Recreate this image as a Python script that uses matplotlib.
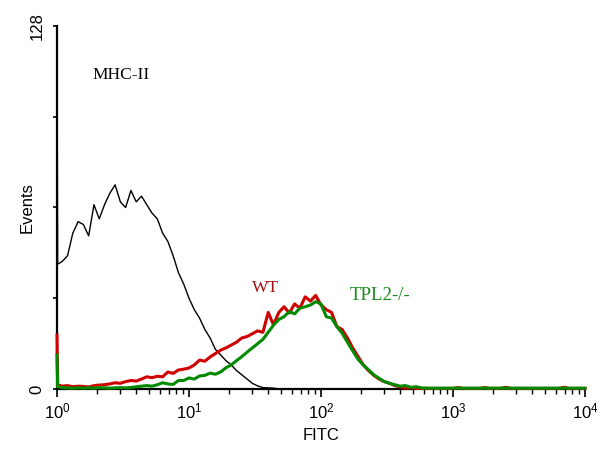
import numpy as np
import matplotlib
matplotlib.use("Agg")
import matplotlib.pyplot as plt
from matplotlib.ticker import LogLocator, FixedLocator, NullFormatter, FixedFormatter

# log10 channel positions (decades): first channel edge, then a regular grid
log_channels = np.round(np.concatenate([[0.0, 0.005], np.arange(0.04, 4.0001, 0.04)]), 3)

# MHC-II isotype / control (black); first channel is off-scale (clipped at 128)
black_counts = [
    128, 44, 45, 47, 55, 59, 58, 54, 65, 60, 65,
    69, 72, 66, 64, 70, 66, 68, 65, 62, 60,
    55, 52, 47, 41, 37, 32, 28, 25, 21, 18,
    14, 12, 10, 8.5, 6.5, 5.0, 3.5, 2.0, 1.1, 0.5,
    0.4, 0.3, 0, 0, 0, 0, 0, 0, 0, 0,
    0, 0, 0, 0, 0, 0, 0, 0, 0, 0,
    0, 0, 0, 0, 0, 0, 0, 0, 0, 0,
    0, 0, 0, 0, 0, 0, 0, 0, 0, 0,
    0, 0, 0, 0, 0, 0, 0, 0, 0, 0,
    0, 0, 0, 0, 0, 0, 0, 0, 0, 0,
    0,
]

# WT (red)
wt_counts = [
    19, 1.5, 1.0, 1.2, 0.8, 1.0, 0.9, 0.7, 1.2, 1.4, 1.5,
    1.8, 2.2, 2.0, 2.6, 3.0, 2.8, 3.5, 4.3, 4.0, 4.5,
    4.3, 6.0, 5.5, 6.7, 7.0, 7.4, 8.5, 10.2, 9.8, 11.3,
    12.5, 13.7, 14.5, 15.5, 16.5, 18.0, 18.5, 19.5, 20.5, 20.0,
    27.0, 22.6, 27.0, 29.0, 26.8, 30.0, 28.5, 32.5, 31.0, 33.0,
    29.6, 28.0, 27.0, 22.0, 21.0, 18.0, 14.5, 11.5, 8.5, 6.5,
    4.8, 3.5, 2.6, 2.0, 1.2, 0.8, 0.3, 0.5, 0.2, 0.2,
    0.2, 0.2, 0.2, 0.2, 0.2, 0.2, 0.5, 0.2, 0.2, 0.2,
    0.2, 0.5, 0.2, 0.2, 0.2, 0.6, 0.2, 0.2, 0.2, 0.2,
    0.2, 0.2, 0.2, 0.2, 0.2, 0.2, 0.6, 0.2, 0.2, 0.2,
    0.2,
]

# TPL2-/- (green)
tpl2_counts = [
    12, 0.8, 0.5, 0.4, 0.3, 0.4, 0.3, 0.4, 0.3, 0.5, 0.4,
    0.3, 0.4, 0.5, 0.4, 0.5, 0.8, 1.0, 1.2, 1.0, 1.5,
    2.2, 1.8, 1.6, 3.0, 3.0, 3.9, 3.5, 4.6, 4.8, 5.6,
    5.2, 6.0, 7.5, 8.5, 10.0, 11.4, 13.0, 14.5, 16.0, 17.5,
    20.0, 22.5, 24.5, 25.5, 27.3, 26.5, 28.5, 29.0, 29.6, 30.8,
    30.0, 25.5, 25.0, 22.0, 19.7, 16.5, 13.5, 10.5, 8.5, 6.8,
    5.0, 3.8, 2.6, 2.0, 1.5, 1.0, 1.2, 0.6, 0.8, 0.4,
    0.3, 0.3, 0.3, 0.3, 0.3, 0.3, 0.3, 0.3, 0.3, 0.3,
    0.3, 0.3, 0.3, 0.3, 0.3, 0.3, 0.3, 0.3, 0.3, 0.3,
    0.3, 0.3, 0.3, 0.3, 0.3, 0.3, 0.3, 0.3, 0.3, 0.3,
    0.3,
]

y_tick_values = [0, 32, 64, 96, 128]
y_tick_labels = ["0", "", "", "", "128"]
x_major = [1, 10, 100, 1000, 10000]
x_major_labels = [r"$10^0$", r"$10^1$", r"$10^2$", r"$10^3$", r"$10^4$"]

plt.rcParams["font.family"] = ["Liberation Sans", "DejaVu Sans"]
plt.rcParams["mathtext.fontset"] = "custom"
plt.rcParams["mathtext.rm"] = "Liberation Sans"
plt.rcParams["mathtext.it"] = "Liberation Sans"

fig = plt.figure(figsize=(6.13, 4.55), dpi=100)
ax = fig.add_axes([57 / 613, 1 - 389 / 455, (585 - 57) / 613, (389 - 26) / 455])

fluor = 10 ** log_channels
ax.plot(fluor, black_counts, color="black", lw=1.0, zorder=3, clip_on=False)
ax.plot(fluor, wt_counts, color="#d00000", lw=2.2, zorder=4, clip_on=False)
ax.plot(fluor, tpl2_counts, color="#008a00", lw=2.2, zorder=5, clip_on=False)

ax.set_xscale("log")
ax.set_xlim(1, 10000)
ax.set_ylim(0, 128)

ax.xaxis.set_major_locator(FixedLocator(x_major))
ax.xaxis.set_major_formatter(FixedFormatter(x_major_labels))
ax.xaxis.set_minor_locator(LogLocator(base=10, subs=np.arange(2, 10)))
ax.xaxis.set_minor_formatter(NullFormatter())
ax.tick_params(axis="x", which="major", length=6, width=1.2, labelsize=12, pad=3)
ax.tick_params(axis="x", which="minor", length=3.5, width=1.0)

ax.yaxis.set_major_locator(FixedLocator(y_tick_values))
ax.yaxis.set_major_formatter(FixedFormatter(y_tick_labels))
ax.tick_params(axis="y", which="major", length=3, width=1.2, labelsize=12, pad=6)
for lbl in ax.get_yticklabels():
    lbl.set_rotation(90)
    lbl.set_va("center")

for s in ("top", "right"):
    ax.spines[s].set_visible(False)
ax.spines["left"].set_linewidth(1.6)
ax.spines["bottom"].set_linewidth(1.6)

ax.set_xlabel("FITC", fontsize=12, labelpad=5)
ax.set_ylabel("Events", fontsize=12, labelpad=-4)

ax.text(3.05, 110.7, "MHC-II", fontsize=12.5, family="Liberation Serif",
        color="black", ha="center", va="center")
ax.text(38, 35.6, "WT", fontsize=12.5, family="Liberation Serif",
        color="#a01010", ha="center", va="center")
ax.text(280, 33, "TPL2-/-", fontsize=13.5, family="Liberation Serif",
        color="#1a8a1a", ha="center", va="center")

fig.savefig("out.png", dpi=100)
